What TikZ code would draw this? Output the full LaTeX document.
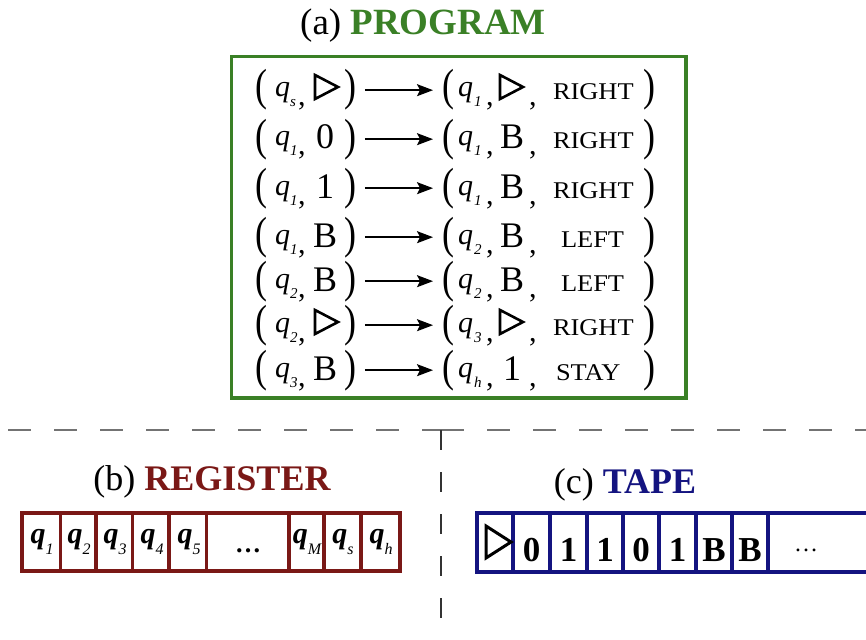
\documentclass[tikz,border=0pt]{standalone}
\usepackage{fontspec}
\setmainfont{Liberation Serif}
\usepackage{graphicx}
\usetikzlibrary{arrows.meta}
\definecolor{pgreen}{RGB}{58,128,38}
\definecolor{rred}{RGB}{122,24,22}
\definecolor{tblue}{RGB}{20,20,128}
\definecolor{dashgray}{RGB}{115,115,115}
\newcommand\fsz[1]{\fontsize{#1}{#1}\selectfont}
\newcommand\tparen[1]{\scalebox{1}[1.25]{\fsz{36}#1}}
\newcommand\regq[1]{{\fsz{30}\bfseries\itshape q}\raisebox{-11pt}{\fsz{16}\itshape #1}}
\begin{document}
\begin{tikzpicture}[x=1pt,y=-1pt,
  every node/.style={inner sep=0pt,outer sep=0pt},
  basec/.style={anchor=base},
  bw/.style={anchor=base west},
  tri/.style={line width=2.6pt,line join=miter,miter limit=6},
  prarrow/.style={line width=1.4pt,-{Stealth[length=16pt,width=12pt,inset=3pt]}},
  progbox/.style={draw=pgreen,line width=3.5pt},
  regline/.style={draw=rred,line width=3.5pt},
  tapeline/.style={draw=tblue,line width=3.3pt},
  hdash/.style={draw=dashgray,line width=2.5pt,dash pattern=on 23pt off 23pt},
  vdash/.style={draw=black!80,line width=1.2pt,dash pattern=on 20pt off 22pt}
]
\useasboundingbox (0,0) rectangle (866,639);

% ---------- (a) PROGRAM ----------
\node[basec] (ta) at (423,35) {\fsz{37}(a) \textcolor{pgreen}{\bfseries PROGRAM}};
\draw[progbox] (231.5,56.5) rectangle (686,398);

\foreach \yb/\ls/\lt/\rs/\rt/\w/\wx [count=\i] in {
  100/s/T/1/T/RIGHT/553,
  149/1/0/1/B/RIGHT/553,
  198/1/1/1/B/RIGHT/553,
  247/1/B/2/B/LEFT/561,
  291/2/B/2/B/LEFT/561,
  335/2/T/3/T/RIGHT/553,
  380/3/B/h/1/STAY/556}{
  % left pair
  \node[bw] (lo\i) at (255,\yb+1) {\tparen{(}};
  \node[bw] (lq\i) at (275,\yb-3) {\fsz{30}\itshape q};
  \node[bw] (ls\i) at (290,\yb+7) {\fsz{15}\itshape \ls};
  \node[bw] (lc\i) at (298,\yb+6) {\fsz{30},};
  \if T\lt
    \draw[tri] (315,\yb-25) -- (338,\yb-13) -- (315,\yb-1) -- cycle;
  \else
    \node[basec] (lx\i) at (325,\yb) {\fsz{36}\lt};
  \fi
  \node[bw] (lp\i) at (344,\yb+1) {\tparen{)}};
  % right triple
  \node[bw] (ro\i) at (442,\yb+1) {\tparen{(}};
  \node[bw] (rq\i) at (458,\yb-3) {\fsz{30}\itshape q};
  \node[bw] (rs\i) at (474,\yb+7) {\fsz{15}\itshape \rs};
  \node[bw] (rc\i) at (486,\yb+6) {\fsz{30},};
  \if T\rt
    \draw[tri] (500,\yb-25) -- (523,\yb-13) -- (500,\yb-1) -- cycle;
  \else
    \node[basec] (rx\i) at (512,\yb) {\fsz{36}\rt};
  \fi
  \node[bw] (rd\i) at (529,\yb+6) {\fsz{30},};
  \node[bw] (w\i) at (\wx,\yb) {\scalebox{1.1}[1]{\fsz{24}\w}};
  \node[bw] (rp\i) at (643,\yb+1) {\tparen{)}};
  % arrow
  \draw[prarrow] ([xshift=9pt]lp\i.east) -- ([xshift=-9pt]ro\i.west);
}

% ---------- separators ----------
\draw[hdash] (8,430) -- (441,430);
\draw[hdash] (441,430) -- (866,430);
\draw[vdash] (441,430) -- (441,639);

% ---------- (b) REGISTER ----------
\node[basec] (tb) at (212,490) {\fsz{36}(b) \textcolor{rred}{\bfseries REGISTER}};
\draw[regline] (22,513) rectangle (400,571);
\foreach \sx in {60.5,96,132.5,169,206.5,289,324,361}
  \draw[regline] (\sx,513) -- (\sx,571);
\foreach \cx/\lab [count=\j] in {42/1,79/2,115/3,152/4,189/5,307/M,343/s,381/h}
  \node[basec] (rg\j) at (\cx,543) {\regq{\lab}};
\node[basec] (rgd) at (248,552) {\fsz{26}\bfseries …};

% ---------- (c) TAPE ----------
\node[basec] (tc) at (625,493) {\fsz{36}(c) \textcolor{tblue}{\bfseries TAPE}};
\draw[tapeline] (866,513) -- (477,513) -- (477,572) -- (866,572);
\foreach \sx in {513,550,587,623,659,696,732,768}
  \draw[tapeline] (\sx,513) -- (\sx,572);
\draw[line width=3pt,line join=miter,miter limit=6] (486,526) -- (511,542) -- (486,558) -- cycle;
\foreach \cx/\lab [count=\j] in {531.5/0,568.5/1,605/1,641/0,677.5/1,714/B,750/B}
  \node[basec] (tp\j) at (\cx,561) {\fsz{35}\bfseries \lab};
\node[basec] (tpd) at (806,551) {\fsz{24}…};
\end{tikzpicture}
\end{document}
